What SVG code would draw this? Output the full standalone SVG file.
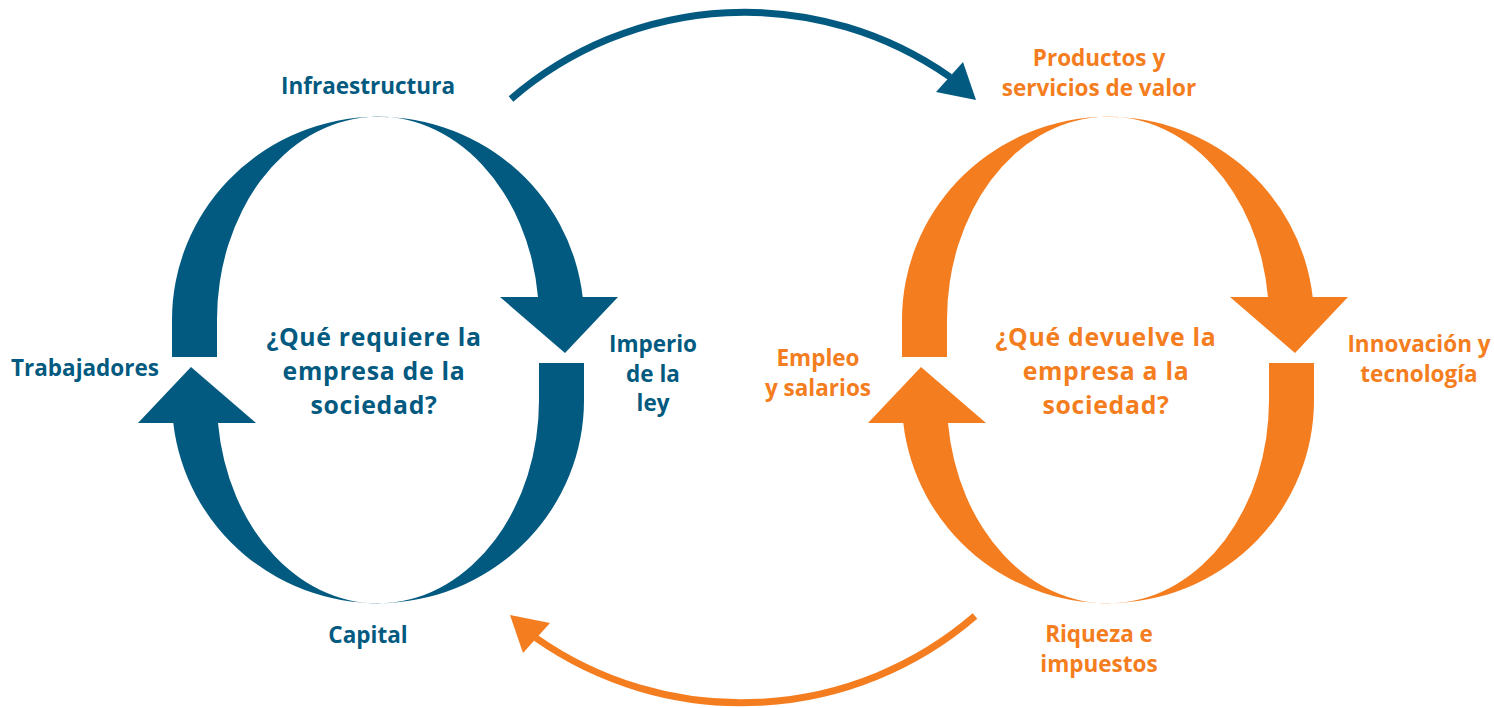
<svg xmlns="http://www.w3.org/2000/svg" width="1494" height="708" viewBox="0 0 1494 708">
<style>
.b{fill:#035A80}
.o{fill:#F47D20}
text{font-family:"Open Sans","Liberation Sans",sans-serif;font-weight:700;text-anchor:middle}
.lbl{font-size:22.5px}
.ctr{font-size:24.8px;letter-spacing:0.7px}
.tb{fill:#035A80}
.to{fill:#F47D20}
</style>
<defs>
<path id="band" d="M 172 357 L 172 320 A 206 203 0 0 1 582.7 297 L 538 297 A 161 203 0 0 0 217 320 L 217 357 Z"/>
<polygon id="head" points="500,297 618,297 565,353"/>
</defs>
<g id="connectors">
<path d="M 511 99 A 358 358 0 0 1 950 77" fill="none" stroke="#035A80" stroke-width="7"/>
<polygon points="936,92 963,62 976,100" fill="#035A80"/>
<path d="M 975 616 A 358 358 0 0 1 536 638" fill="none" stroke="#F47D20" stroke-width="7"/>
<polygon points="550,623 523,653 510,615" fill="#F47D20"/>
</g>
<g id="cycle-requiere" class="b">
<use href="#band"/>
<use href="#head"/>
<use href="#band" transform="rotate(180 378 360)"/>
<use href="#head" transform="rotate(180 378 360)"/>
</g>
<g id="cycle-devuelve" class="o" transform="translate(730 0)">
<use href="#band"/>
<use href="#head"/>
<use href="#band" transform="rotate(180 378 360)"/>
<use href="#head" transform="rotate(180 378 360)"/>
</g>
<g id="q-requiere" class="tb ctr"><text x="374" y="346">¿Qué requiere la</text><text x="374" y="380">empresa de la</text><text x="374" y="414">sociedad?</text></g>
<g id="infraestructura" class="tb lbl"><text x="368" y="94">Infraestructura</text></g>
<g id="trabajadores" class="tb lbl"><text x="85" y="376">Trabajadores</text></g>
<g id="imperio" class="tb lbl"><text x="653" y="352">Imperio</text><text x="653" y="382">de la</text><text x="653" y="411">ley</text></g>
<g id="capital" class="tb lbl"><text x="368" y="643">Capital</text></g>
<g id="q-devuelve" class="to ctr"><text x="1106" y="346">¿Qué devuelve la</text><text x="1106" y="380">empresa a la</text><text x="1106" y="414">sociedad?</text></g>
<g id="productos" class="to lbl"><text x="1099" y="66">Productos y</text><text x="1099" y="96">servicios de valor</text></g>
<g id="empleo" class="to lbl"><text x="818" y="366">Empleo</text><text x="818" y="396">y salarios</text></g>
<g id="innovacion" class="to lbl"><text x="1419" y="352">Innovación y</text><text x="1419" y="382">tecnología</text></g>
<g id="riqueza" class="to lbl"><text x="1099" y="642">Riqueza e</text><text x="1099" y="672">impuestos</text></g>
</svg>
